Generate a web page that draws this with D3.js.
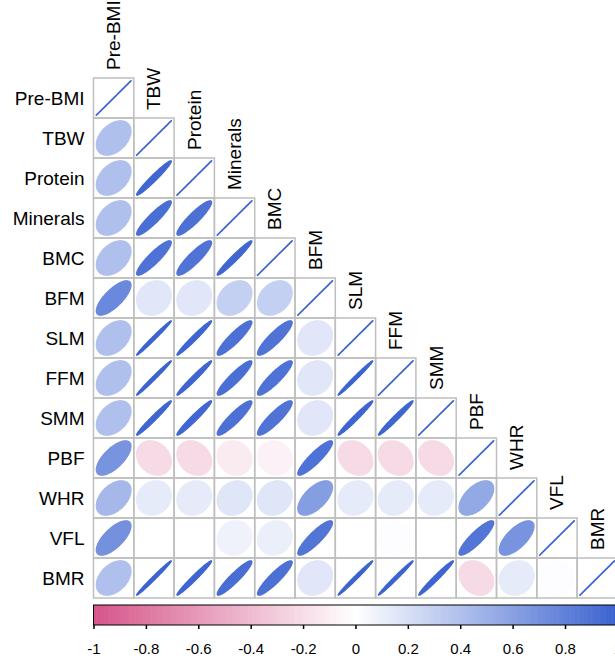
<!DOCTYPE html>
<html><head><meta charset="utf-8">
<script src="https://cdn.jsdelivr.net/npm/d3@7"></script>
<style>body{margin:0;background:#fff}svg{display:block}text{font-family:"Liberation Sans",Arial,sans-serif;fill:#000}</style>
</head><body><div id="chart"></div>
<script>
const labels = ["Pre-BMI","TBW","Protein","Minerals","BMC","BFM","SLM","FFM","SMM","PBF","WHR","VFL","BMR"];
// lower triangle correlations, row i has i+1 values (last = diagonal 1)
const rows = [
  [1],
  [0.40, 1],
  [0.40, 0.97, 1],
  [0.40, 0.92, 0.91, 1],
  [0.40, 0.90, 0.89, 0.97, 1],
  [0.75, 0.15, 0.15, 0.30, 0.30, 1],
  [0.40, 0.99, 0.98, 0.91, 0.89, 0.15, 1],
  [0.40, 0.99, 0.98, 0.92, 0.90, 0.15, 0.99, 1],
  [0.40, 0.98, 0.97, 0.91, 0.89, 0.15, 0.98, 0.98, 1],
  [0.68, -0.22, -0.22, -0.12, -0.08, 0.90, -0.22, -0.22, -0.22, 1],
  [0.45, 0.13, 0.13, 0.16, 0.16, 0.62, 0.13, 0.13, 0.13, 0.55, 1],
  [0.70, 0.00, 0.00, 0.08, 0.10, 0.88, 0.00, 0.01, 0.00, 0.88, 0.68, 1],
  [0.40, 0.99, 0.98, 0.93, 0.91, 0.15, 0.99, 0.99, 0.98, -0.22, 0.13, 0.01, 1]
];
const legendTicks = [-1,-0.8,-0.6,-0.4,-0.2,0,0.2,0.4,0.6,0.8,1];

const W = 615, H = 661;
const svg = d3.select("#chart").append("svg").attr("width", W).attr("height", H);
const x0 = 93.5, y0 = 78, cw = 40.3, ch = 40;
const x = d3.scaleBand().domain(labels).range([x0, x0 + cw*labels.length]).padding(0);
const y = d3.scaleBand().domain(labels).range([y0, y0 + ch*labels.length]).padding(0);
const color = d3.scaleLinear().domain([-1,0,1]).range(["#d6558a","#ffffff","#3a62d0"]).interpolate(d3.interpolateRgb);

const cells = [];
rows.forEach((r,i)=>r.forEach((v,j)=>cells.push({row:labels[i], col:labels[j], v})));

const ell = (rho) => {
  const a = Math.acos(Math.max(-1, Math.min(1, rho)));
  return d3.range(100).map(t => {
    const k = t/99*2*Math.PI;
    return [Math.cos(k + a/2)/2, Math.cos(k - a/2)/2];
  });
};
const s = 0.86;
const g = svg.append("g");
g.selectAll("path.e").data(cells).join("path")
  .attr("class","e")
  .attr("d", d => {
    const cx = x(d.col) + x.bandwidth()/2, cy = y(d.row) + y.bandwidth()/2;
    return d3.line()(ell(d.v).map(p => [cx + p[0]*s*x.bandwidth(), cy - p[1]*s*y.bandwidth()])) + "Z";
  })
  .attr("fill", d => color(d.v))
  .attr("stroke", d => color(d.v))
  .attr("stroke-width", d => d.v >= 0.999 ? 1.7 : 1.3)
  .attr("stroke-linejoin","round");

g.selectAll("rect.c").data(cells).join("rect")
  .attr("x", d => x(d.col)).attr("y", d => y(d.row))
  .attr("width", x.bandwidth()).attr("height", y.bandwidth())
  .attr("fill","none").attr("stroke","#bebebe").attr("stroke-width",1.5);

svg.selectAll("text.r").data(labels).join("text")
  .attr("x", x0 - 9).attr("y", d => y(d) + y.bandwidth()/2)
  .attr("text-anchor","end").attr("dominant-baseline","central")
  .style("font-size","19px").text(d => d);

svg.selectAll("text.cl").data(labels).join("text")
  .attr("transform", d => `translate(${x(d)+x.bandwidth()/2},${y(d)-8}) rotate(-90)`)
  .attr("text-anchor","start").attr("dominant-baseline","central")
  .style("font-size","19px").text(d => d);

const lx = d3.scaleLinear().domain([-1,1]).range([x0, x0 + cw*labels.length]);
const ly = 605, lh = 20;
const nb = 200;
svg.append("g").selectAll("rect").data(d3.range(nb)).join("rect")
  .attr("x", i => lx(-1 + 2*i/nb)).attr("y", ly)
  .attr("width", (lx(1)-lx(-1))/nb + 0.6).attr("height", lh)
  .attr("fill", i => color(-1 + 2*(i+0.5)/nb));
svg.append("rect").attr("x", lx(-1)).attr("y", ly).attr("width", lx(1)-lx(-1)).attr("height", lh)
  .attr("fill","none").attr("stroke","#000").attr("stroke-width",1);
const ax = svg.append("g").attr("transform", `translate(0,${ly+lh})`)
  .call(d3.axisBottom(lx).tickValues(legendTicks).tickSize(4).tickFormat(d => String(d)));
ax.select(".domain").remove();
ax.selectAll("line").attr("stroke","#000").attr("stroke-width",1.5);
ax.selectAll("text").style("font-size","15px").attr("y", 18).attr("dy","0.71em")
  .style("font-family","'Liberation Sans',Arial,sans-serif").attr("fill","#000");
</script></body></html>
